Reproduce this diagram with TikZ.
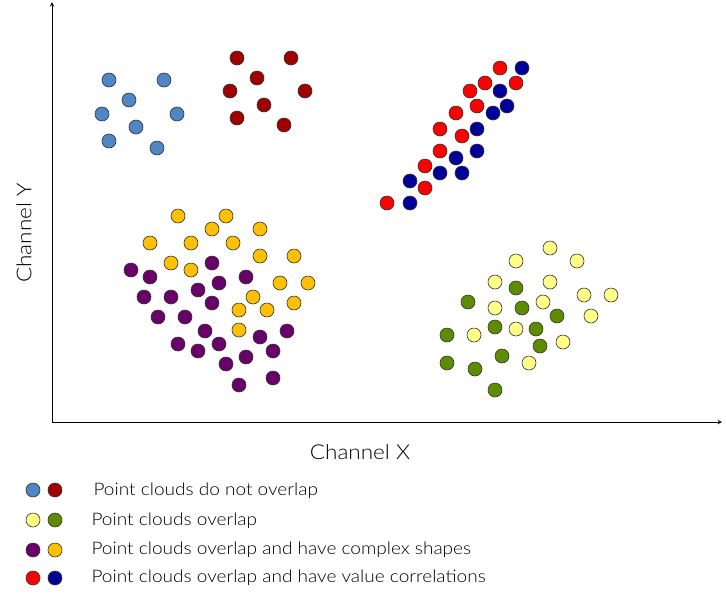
\documentclass[tikz,border=0pt]{standalone}
\usepackage{fontspec}
\setmainfont{Lato Light}[FakeStretch=1.1]
\begin{document}
\begin{tikzpicture}[x=1pt,y=-1pt,
 pt/.style={circle,draw=black!80,line width=0.6pt,minimum size=14pt,inner sep=0pt},
 sb/.style={pt,fill=c1},dr/.style={pt,fill=c2},yl/.style={pt,fill=c3},pu/.style={pt,fill=c4},
 rd/.style={pt,fill=c5},bl/.style={pt,fill=c6},ly/.style={pt,fill=c7},gr/.style={pt,fill=c8},
 lab/.style={anchor=west,font=\fontsize{17.3}{19}\selectfont}]
\definecolor{c1}{HTML}{4F86C6}\definecolor{c2}{HTML}{A00000}\definecolor{c3}{HTML}{FFC000}
\definecolor{c4}{HTML}{6A006A}\definecolor{c5}{HTML}{FF0000}\definecolor{c6}{HTML}{000099}
\definecolor{c7}{HTML}{FFFF88}\definecolor{c8}{HTML}{5E8C00}
\useasboundingbox (0,0) rectangle (726,598);
\coordinate (o) at (52,422); \coordinate (yt) at (52,2); \coordinate (xt) at (722,422);
\draw[line width=1pt,-stealth] (o) -- (yt);
\draw[line width=1pt,-stealth] (o) -- (xt);
\node[font=\fontsize{20.5}{22}\selectfont] (xl) at (360,452) {Channel X};
\node[font=\fontsize{20.5}{22}\selectfont,rotate=90] (yl) at (24,233) {Channel Y};
\foreach \x/\y [count=\i] in {109/80,164/80,129/100,102/114,177/114,136/127,109/141,157/148} \node[sb] (s\i) at (\x,\y) {};
\foreach \x/\y [count=\i] in {237/58,291/58,257/78,230/91,305/91,264/105,237/118,284/125} \node[dr] (d\i) at (\x,\y) {};
\foreach \x/\y [count=\i] in {178/216,226/216,212/229,260/229,150/243,191/243,233/243,260/256,294/256,171/263,191/270,280/283,308/283,253/297,294/303,239/310,267/310,239/330} \node[yl] (y\i) at (\x,\y) {};
\foreach \x/\y [count=\i] in {131/270,150/277,212/263,246/277,219/283,198/290,144/297,171/297,212/303,158/317,185/317,205/331,287/331,260/337,178/344,198/351,219/344,273/351,246/357,226/364,239/385,273/378} \node[pu] (p\i) at (\x,\y) {};
\foreach \x/\y [count=\i] in {500/68,485/83,516/83,470/91,477/106,456/113,440/129,462/136,440/151,425/166,425/188,387/203} \node[rd] (r\i) at (\x,\y) {};
\foreach \x/\y [count=\i] in {522/68,500/91,507/106,493/113,477/129,477/151,456/158,440/173,462/173,410/181,410/203} \node[bl] (b\i) at (\x,\y) {};
\foreach \x/\y [count=\i] in {550/248,516/261,577/261,495/282,550/282,584/295,611/295,543/302,495/308,591/316,516/329,474/335,563/342,529/363} \node[ly] (l\i) at (\x,\y) {};
\foreach \x/\y [count=\i] in {516/288,468/302,522/308,557/316,495/327,536/329,447/335,540/346,502/356,447/363,475/369,495/390} \node[gr] (g\i) at (\x,\y) {};
\node[sb] (k1) at (33,490) {}; \node[dr] (k2) at (55,490) {};
\node[ly] (k3) at (33,520) {}; \node[gr] (k4) at (55,520) {};
\node[pu] (k5) at (33,550) {}; \node[yl] (k6) at (55,550) {};
\node[rd] (k7) at (33,578) {}; \node[bl] (k8) at (55,578) {};
\node[lab] (t1) at (90,491) {Point clouds do not overlap};
\node[lab] (t2) at (88,521) {Point clouds overlap};
\node[lab] (t3) at (88,550) {Point clouds overlap and have complex shapes};
\node[lab] (t4) at (88,578) {Point clouds overlap and have value correlations};
\end{tikzpicture}
\end{document}
